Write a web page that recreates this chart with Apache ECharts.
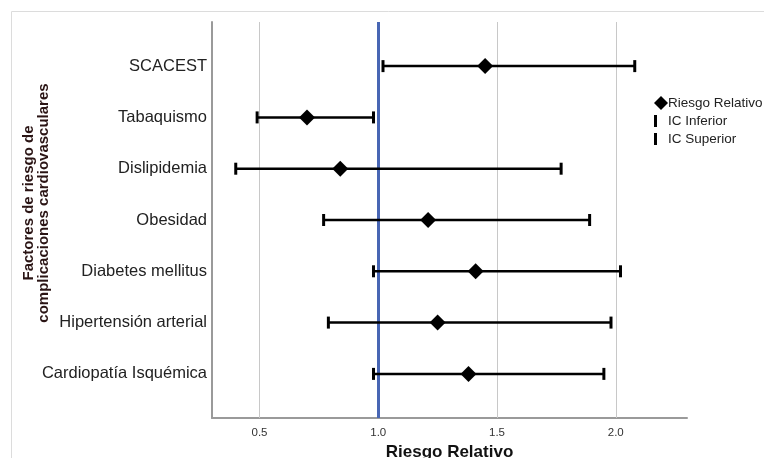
<!DOCTYPE html>
<html>
<head>
<meta charset="utf-8">
<script src="https://cdn.jsdelivr.net/npm/echarts@6/dist/echarts.min.js"></script>
<style>
  html, body { margin: 0; padding: 0; background: #fff; }
  #chart { width: 764px; height: 458px; }
</style>
</head>
<body>
<div id="chart"></div>
<script>
// factores, de arriba hacia abajo
var factores = ['SCACEST', 'Tabaquismo', 'Dislipidemia', 'Obesidad', 'Diabetes mellitus', 'Hipertensión arterial', 'Cardiopatía Isquémica'];
var riesgoRelativo = [1.45, 0.70, 0.84, 1.21, 1.41, 1.25, 1.38];
var icInferior = [1.02, 0.49, 0.40, 0.77, 0.98, 0.79, 0.98];
var icSuperior = [2.08, 0.98, 1.77, 1.89, 2.02, 1.98, 1.95];
var xTicks = [0.5, 1.0, 1.5, 2.0];
var gridLines = [0.5, 1.5, 2.0];
var refLine = 1.0;
var tituloY = 'Factores de riesgo de\ncomplicaciones cardiovasculares';

var chart = echarts.init(document.getElementById('chart'));

function pares(vals) {
  return vals.map(function (v, i) { return [v, i]; });
}

// linea horizontal de cada intervalo
var intervalos = factores.map(function (f, i) { return [icInferior[i], icSuperior[i], i]; });

var barra = 'path://M0,0h3v12h-3zM14,0L14,0.01';

var option = {
  animation: false,
  textStyle: { fontFamily: 'Liberation Sans, Arial, sans-serif' },
  graphic: [{
    type: 'rect',
    shape: { x: 11.5, y: 11.5, width: 800, height: 500 },
    style: { fill: 'none', stroke: '#dcdcdc', lineWidth: 1 },
    z: -1
  }, {
    type: 'text',
    x: 36,
    y: 203,
    rotation: Math.PI / 2,
    style: {
      text: tituloY,
      font: 'bold 15px "Liberation Sans", Arial, sans-serif',
      fill: '#2a1414',
      align: 'center',
      verticalAlign: 'middle',
      lineHeight: 15
    }
  }],
  legend: {
    orient: 'vertical',
    left: 649,
    top: 91,
    itemGap: 4,
    itemWidth: 14,
    itemHeight: 14,
    itemStyle: { color: '#000', opacity: 1 },
    textStyle: { fontSize: 13.5, color: '#222', padding: [0, 0, 0, -5] },
    data: [
      { name: 'Riesgo Relativo', icon: 'diamond' },
      { name: 'IC Inferior', icon: barra },
      { name: 'IC Superior', icon: barra }
    ]
  },
  grid: { left: 212, right: 77, top: 22, bottom: 40, outerBoundsMode: 'none', containLabel: false },
  xAxis: {
    type: 'value',
    min: 0.3,
    max: 2.3,
    name: 'Riesgo Relativo',
    nameLocation: 'middle',
    nameGap: 21,
    nameTextStyle: { fontSize: 17, fontWeight: 'bold', color: '#111' },
    axisLine: { show: true, onZero: false, lineStyle: { color: '#9a9a9a', width: 2 } },
    axisTick: { show: false },
    splitLine: { show: false },
    axisLabel: {
      customValues: xTicks,
      fontSize: 11.5,
      color: '#333',
      margin: 9,
      formatter: function (v) { return v.toFixed(1); }
    }
  },
  yAxis: {
    type: 'value',
    inverse: true,
    min: -0.86,
    max: 6.86,
    axisLine: { show: true, onZero: false, lineStyle: { color: '#9a9a9a', width: 2 } },
    axisTick: { show: false },
    splitLine: { show: false },
    axisLabel: {
      customValues: factores.map(function (f, i) { return i; }),
      fontSize: 16.5,
      color: '#222',
      margin: 5,
      formatter: function (v) { return factores[Math.round(v)]; }
    }
  },
  series: [
    {
      name: 'intervalo',
      type: 'custom',
      data: intervalos,
      encode: { x: [0, 1], y: 2 },
      renderItem: function (params, api) {
        var a = api.coord([api.value(0), api.value(2)]);
        var b = api.coord([api.value(1), api.value(2)]);
        return {
          type: 'line',
          shape: { x1: a[0], y1: a[1], x2: b[0], y2: b[1] },
          style: { stroke: '#000', lineWidth: 2.5 }
        };
      },
      z: 3,
      markLine: {
        silent: true,
        symbol: 'none',
        label: { show: false },
        data: gridLines.map(function (v) {
          return { xAxis: v, lineStyle: { color: '#c8c8c8', width: 1, type: 'solid' } };
        }).concat([{ xAxis: refLine, lineStyle: { color: '#4866b4', width: 3, type: 'solid' } }]),
        z: 1
      }
    },
    {
      name: 'IC Inferior',
      type: 'scatter',
      data: pares(icInferior),
      symbol: 'rect',
      symbolSize: [3, 12],
      itemStyle: { color: '#000', opacity: 1 },
      z: 4
    },
    {
      name: 'IC Superior',
      type: 'scatter',
      data: pares(icSuperior),
      symbol: 'rect',
      symbolSize: [3, 12],
      itemStyle: { color: '#000', opacity: 1 },
      z: 4
    },
    {
      name: 'Riesgo Relativo',
      type: 'scatter',
      data: pares(riesgoRelativo),
      symbol: 'diamond',
      symbolSize: 16,
      itemStyle: { color: '#000', opacity: 1 },
      z: 5
    }
  ]
};

chart.setOption(option);
</script>
</body>
</html>
